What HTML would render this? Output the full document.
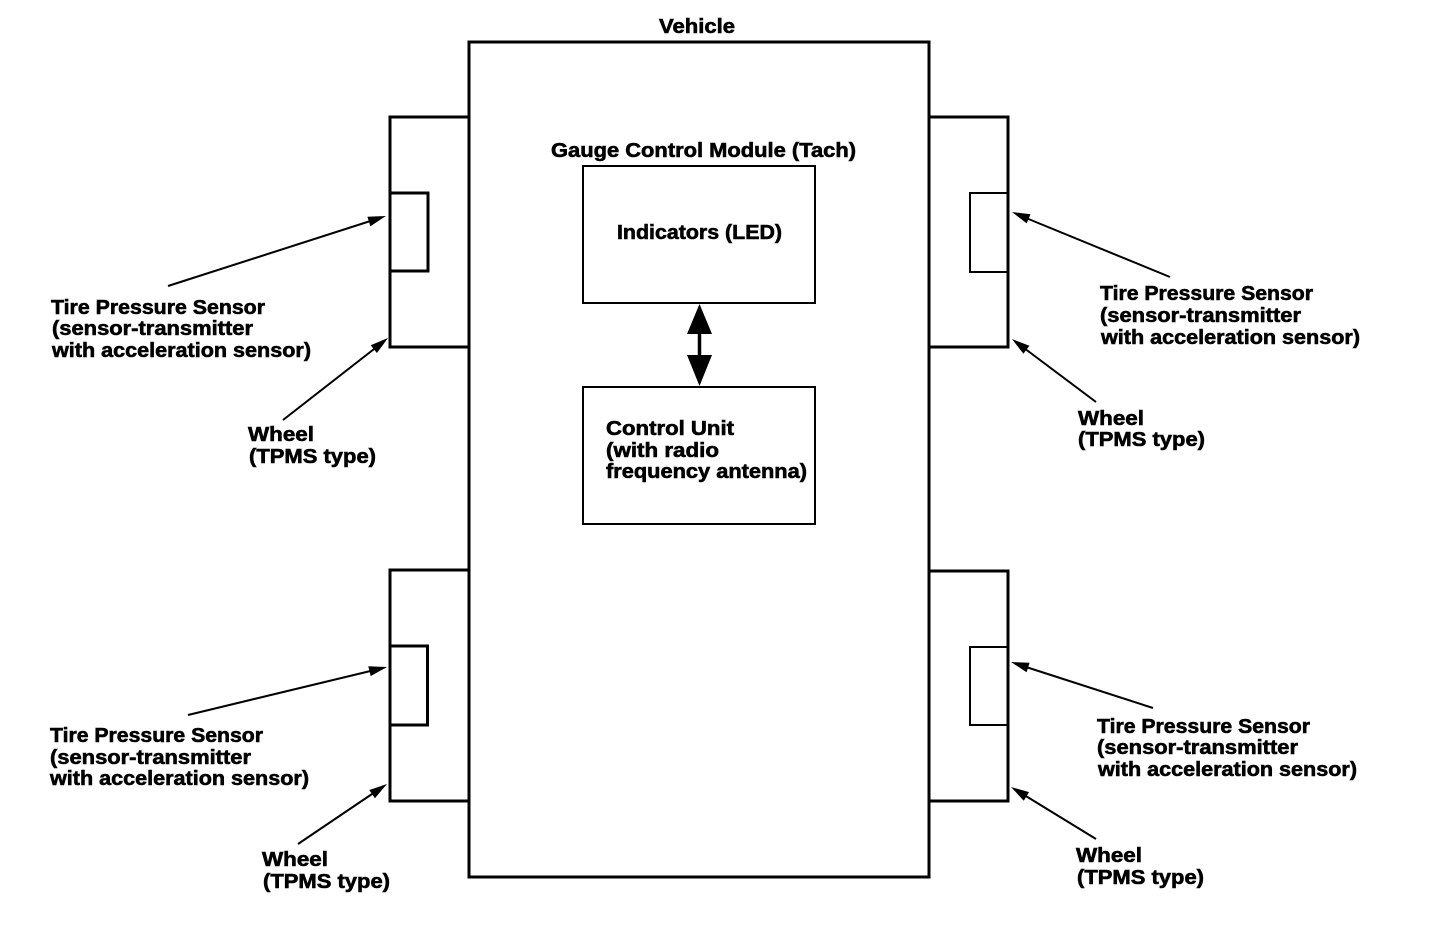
<!DOCTYPE html>
<html>
<head>
<meta charset="utf-8">
<style>
html,body{margin:0;padding:0;background:#fff;width:1456px;height:936px;overflow:hidden}
svg{display:block}
text{font-family:"Liberation Sans",sans-serif;font-weight:bold;font-size:20px;fill:#000;stroke:#000;stroke-width:.6px}
</style>
</head>
<body>
<svg width="1456" height="936" viewBox="0 0 1456 936" xmlns="http://www.w3.org/2000/svg">
<g fill="none" stroke="#000" stroke-width="3">
<rect x="469" y="42" width="460" height="835"/>
<path d="M469 117H390V347H469"/>
<path d="M390 193H428V271H390"/>
<path d="M930 117H1008V347H930"/>
<path d="M930 571H1008V801H930"/>
<path d="M469 570H390V801H469"/>
<path d="M390 646H427.500V725H390"/>
</g>
<g fill="none" stroke="#000" stroke-width="2">
<path d="M1008 193H970V272H1008"/>
<path d="M1008 647H970V725H1008"/>
<rect x="583" y="166" width="232" height="137"/>
<rect x="583" y="387" width="232" height="137"/>
<path d="M168 286L372 220.500"/>
<path d="M283 420L376 347.500"/>
<path d="M1170 277L1026 218"/>
<path d="M1096 402L1024 348"/>
<path d="M188 715L372 670.600"/>
<path d="M298 844L375 792"/>
<path d="M1153 708L1026 667"/>
<path d="M1096 839L1025 795.500"/>
</g>
<path d="M699.500 330V360" stroke="#000" stroke-width="3.500"/>
<g fill="#000">
<path d="M699.500 304L712 334H687Z"/>
<path d="M699.500 386L712 355H687Z"/>
<path d="M386 216L370.400 226.300L367.400 216.700Z"/>
<path d="M388 338L376.900 353L370.700 345.200Z"/>
<path d="M1012 212L1030.500 214.200L1026.700 223.400Z"/>
<path d="M1012 339L1029.400 345.800L1023.400 353.800Z"/>
<path d="M387 667L370.700 676.100L368.300 666.300Z"/>
<path d="M387 784L374.900 798.200L369.300 790Z"/>
<path d="M1011 662L1029.600 662.700L1026.600 672.300Z"/>
<path d="M1011 787L1029 792.100L1023.800 800.700Z"/>
</g>
<text x="659" y="33" textLength="76" lengthAdjust="spacingAndGlyphs">Vehicle</text>
<text x="551" y="157" textLength="305" lengthAdjust="spacingAndGlyphs">Gauge Control Module (Tach)</text>
<text x="617" y="239" textLength="165" lengthAdjust="spacingAndGlyphs">Indicators (LED)</text>
<text x="606" y="435" textLength="128" lengthAdjust="spacingAndGlyphs">Control Unit</text>
<text x="606" y="457" textLength="113" lengthAdjust="spacingAndGlyphs">(with radio</text>
<text x="606" y="478" textLength="201" lengthAdjust="spacingAndGlyphs">frequency antenna)</text>

<text x="51" y="314" textLength="214" lengthAdjust="spacingAndGlyphs">Tire Pressure Sensor</text>
<text x="52" y="335" textLength="201" lengthAdjust="spacingAndGlyphs">(sensor-transmitter</text>
<text x="52" y="357" textLength="259" lengthAdjust="spacingAndGlyphs">with acceleration sensor)</text>
<text x="248" y="441" textLength="66" lengthAdjust="spacingAndGlyphs">Wheel</text>
<text x="249" y="463" textLength="127" lengthAdjust="spacingAndGlyphs">(TPMS type)</text>

<text x="1100" y="300" textLength="213" lengthAdjust="spacingAndGlyphs">Tire Pressure Sensor</text>
<text x="1100" y="322" textLength="201" lengthAdjust="spacingAndGlyphs">(sensor-transmitter</text>
<text x="1101" y="344" textLength="259" lengthAdjust="spacingAndGlyphs">with acceleration sensor)</text>
<text x="1078" y="425" textLength="66" lengthAdjust="spacingAndGlyphs">Wheel</text>
<text x="1078" y="446" textLength="127" lengthAdjust="spacingAndGlyphs">(TPMS type)</text>

<text x="50" y="742" textLength="213" lengthAdjust="spacingAndGlyphs">Tire Pressure Sensor</text>
<text x="50" y="764" textLength="201" lengthAdjust="spacingAndGlyphs">(sensor-transmitter</text>
<text x="50" y="785" textLength="259" lengthAdjust="spacingAndGlyphs">with acceleration sensor)</text>
<text x="262" y="866" textLength="66" lengthAdjust="spacingAndGlyphs">Wheel</text>
<text x="263" y="888" textLength="127" lengthAdjust="spacingAndGlyphs">(TPMS type)</text>

<text x="1097" y="733" textLength="213" lengthAdjust="spacingAndGlyphs">Tire Pressure Sensor</text>
<text x="1097" y="754" textLength="201" lengthAdjust="spacingAndGlyphs">(sensor-transmitter</text>
<text x="1098" y="776" textLength="259" lengthAdjust="spacingAndGlyphs">with acceleration sensor)</text>
<text x="1076" y="862" textLength="66" lengthAdjust="spacingAndGlyphs">Wheel</text>
<text x="1077" y="884" textLength="127" lengthAdjust="spacingAndGlyphs">(TPMS type)</text>
</svg>
</body>
</html>
